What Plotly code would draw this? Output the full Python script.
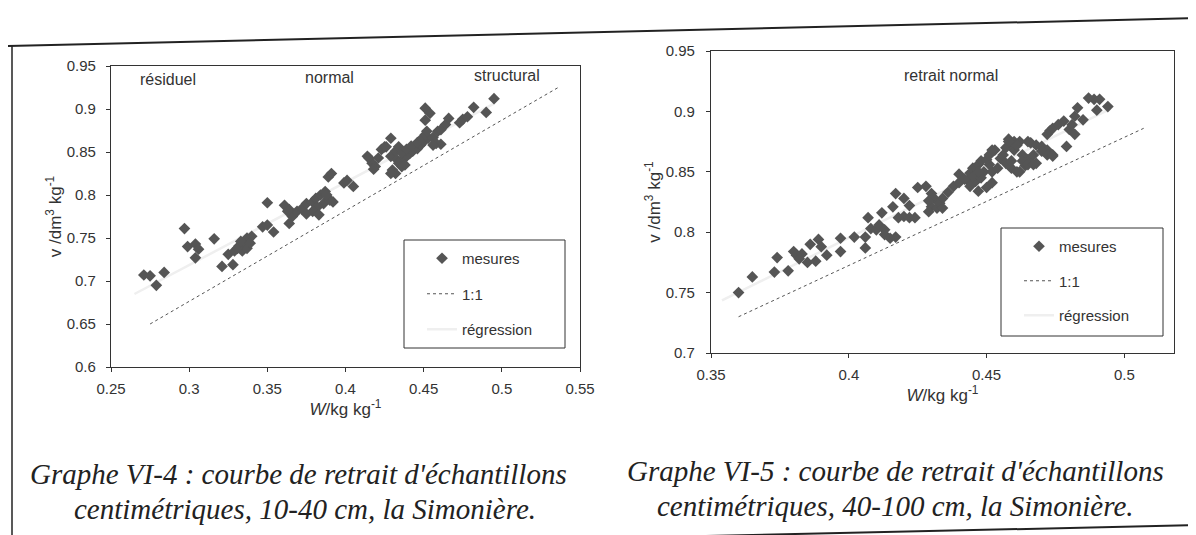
import numpy as np
import plotly.graph_objects as go

# ---------------- data ----------------
# Graphe VI-4 : 10-40 cm
left_w = [0.271, 0.275, 0.279, 0.284, 0.297, 0.299, 0.304, 0.306, 0.304, 0.316,
          0.321, 0.328, 0.325, 0.329, 0.332, 0.335, 0.337, 0.340, 0.334, 0.337,
          0.331, 0.333, 0.339, 0.347, 0.350, 0.354, 0.350, 0.361, 0.364, 0.366,
          0.369, 0.372, 0.364, 0.363, 0.375, 0.379, 0.381, 0.384, 0.387, 0.389,
          0.386, 0.382, 0.379, 0.375, 0.383, 0.392, 0.390, 0.388, 0.389, 0.391,
          0.399, 0.401, 0.405, 0.414, 0.417, 0.419, 0.418, 0.415, 0.421, 0.423,
          0.425, 0.429, 0.426, 0.429, 0.432, 0.434, 0.430, 0.432, 0.429, 0.433,
          0.435, 0.437, 0.439, 0.441, 0.443, 0.446, 0.448, 0.450, 0.453, 0.436,
          0.439, 0.442, 0.446, 0.449, 0.451, 0.434, 0.436, 0.438, 0.451, 0.454,
          0.451, 0.452, 0.456, 0.461, 0.458, 0.456, 0.459, 0.461, 0.464, 0.466,
          0.473, 0.475, 0.478, 0.482, 0.490, 0.495]
left_v = [0.707, 0.706, 0.695, 0.710, 0.761, 0.740, 0.743, 0.737, 0.727, 0.749,
          0.717, 0.719, 0.731, 0.735, 0.741, 0.744, 0.750, 0.752, 0.735, 0.738,
          0.738, 0.746, 0.744, 0.763, 0.765, 0.757, 0.791, 0.788, 0.783, 0.775,
          0.781, 0.784, 0.767, 0.781, 0.790, 0.792, 0.796, 0.800, 0.804, 0.796,
          0.790, 0.786, 0.781, 0.778, 0.777, 0.792, 0.794, 0.800, 0.821, 0.825,
          0.814, 0.817, 0.810, 0.845, 0.837, 0.833, 0.830, 0.843, 0.843, 0.853,
          0.856, 0.866, 0.856, 0.845, 0.851, 0.856, 0.829, 0.825, 0.825, 0.841,
          0.839, 0.842, 0.845, 0.848, 0.851, 0.854, 0.858, 0.862, 0.866, 0.849,
          0.853, 0.857, 0.861, 0.866, 0.870, 0.837, 0.833, 0.835, 0.901, 0.895,
          0.887, 0.874, 0.867, 0.859, 0.860, 0.858, 0.874, 0.876, 0.882, 0.889,
          0.884, 0.888, 0.891, 0.902, 0.896, 0.912]
left_sat_w = [0.275, 0.537]
left_sat_v = [0.650, 0.926]

# Graphe VI-5 : 40-100 cm
right_w = [0.360, 0.365, 0.373, 0.374, 0.378, 0.380, 0.381, 0.383, 0.382, 0.385,
           0.386, 0.388, 0.389, 0.390, 0.392, 0.397, 0.397, 0.402, 0.406, 0.406,
           0.407, 0.408, 0.410, 0.411, 0.413, 0.412, 0.413, 0.415, 0.417, 0.416,
           0.417, 0.420, 0.422, 0.418, 0.420, 0.422, 0.424, 0.425, 0.428, 0.430,
           0.431, 0.430, 0.432, 0.433, 0.434, 0.436, 0.438, 0.429, 0.429, 0.434,
           0.440, 0.440, 0.443, 0.442, 0.444, 0.445, 0.447, 0.448, 0.444, 0.446,
           0.447, 0.450, 0.452, 0.449, 0.451, 0.445, 0.448, 0.452, 0.454, 0.447,
           0.450, 0.451, 0.453, 0.455, 0.457, 0.459, 0.462, 0.464, 0.468, 0.465,
           0.463, 0.460, 0.459, 0.458, 0.460, 0.462, 0.465, 0.466, 0.468, 0.470,
           0.472, 0.474, 0.452, 0.456, 0.457, 0.458, 0.461, 0.467, 0.470, 0.472,
           0.474, 0.461, 0.459, 0.463, 0.465, 0.467, 0.472, 0.473, 0.474, 0.476,
           0.478, 0.480, 0.481, 0.482, 0.479, 0.482, 0.483, 0.485, 0.489, 0.490,
           0.491, 0.494, 0.487]
right_v = [0.750, 0.763, 0.767, 0.779, 0.768, 0.784, 0.781, 0.782, 0.778, 0.775,
           0.790, 0.776, 0.794, 0.788, 0.781, 0.795, 0.784, 0.796, 0.787, 0.796,
           0.812, 0.803, 0.802, 0.806, 0.802, 0.816, 0.798, 0.795, 0.796, 0.821,
           0.832, 0.828, 0.822, 0.812, 0.813, 0.812, 0.812, 0.837, 0.838, 0.832,
           0.828, 0.821, 0.820, 0.824, 0.828, 0.833, 0.838, 0.817, 0.826, 0.820,
           0.848, 0.841, 0.843, 0.844, 0.849, 0.853, 0.856, 0.859, 0.838, 0.842,
           0.834, 0.837, 0.841, 0.850, 0.856, 0.846, 0.845, 0.850, 0.853, 0.850,
           0.860, 0.864, 0.868, 0.861, 0.857, 0.853, 0.850, 0.855, 0.857, 0.860,
           0.864, 0.868, 0.871, 0.877, 0.875, 0.875, 0.875, 0.874, 0.872, 0.871,
           0.868, 0.864, 0.868, 0.864, 0.870, 0.875, 0.872, 0.864, 0.867, 0.864,
           0.863, 0.850, 0.859, 0.859, 0.856, 0.856, 0.881, 0.884, 0.886, 0.889,
           0.892, 0.885, 0.889, 0.881, 0.871, 0.896, 0.903, 0.893, 0.910, 0.901,
           0.910, 0.904, 0.911]
right_sat_w = [0.360, 0.507]
right_sat_v = [0.730, 0.886]

# axis ticks
left_xticks = [0.25, 0.30, 0.35, 0.40, 0.45, 0.50, 0.55]
left_xtext = ["0.25", "0.3", "0.35", "0.4", "0.45", "0.5", "0.55"]
left_yticks = [0.60, 0.65, 0.70, 0.75, 0.80, 0.85, 0.90, 0.95]
left_ytext = ["0.6", "0.65", "0.7", "0.75", "0.8", "0.85", "0.9", "0.95"]
right_xticks = [0.35, 0.40, 0.45, 0.50]
right_xtext = ["0.35", "0.4", "0.45", "0.5"]
right_yticks = [0.70, 0.75, 0.80, 0.85, 0.90, 0.95]
right_ytext = ["0.7", "0.75", "0.8", "0.85", "0.9", "0.95"]

# ---------------- figure ----------------
W, H = 1196, 535
SANS = "Liberation Sans, Arial, sans-serif"
SERIF = "Liberation Serif, Times New Roman, serif"
MARK = "#555555"
TXT = "#333333"


def px_x(p):
    return p / W


def px_y(p):
    return 1 - p / H


fig = go.Figure()


def add_panel(w, v, sw, sv, xa, ya, leg):
    w = np.asarray(w)
    v = np.asarray(v)
    b, a = np.polyfit(w, v, 1)
    rx = np.array([w.min() - 0.006, w.max()])
    fig.add_trace(go.Scatter(x=rx, y=a + b * rx, mode="lines", name="régression",
                             line=dict(color="#efefef", width=2.5),
                             xaxis=xa, yaxis=ya, legend=leg, legendrank=3,
                             legendgroup=leg + "r"))
    fig.add_trace(go.Scatter(x=sw, y=sv, mode="lines", name="1:1",
                             line=dict(color="#555555", width=1, dash="dot"),
                             xaxis=xa, yaxis=ya, legend=leg, legendrank=2,
                             legendgroup=leg + "s"))
    fig.add_trace(go.Scatter(x=w, y=v, mode="markers", name="mesures",
                             marker=dict(symbol="diamond", size=9, color=MARK,
                                         line=dict(width=0)),
                             xaxis=xa, yaxis=ya, legend=leg, legendrank=1,
                             legendgroup=leg + "m"))


add_panel(left_w, left_v, left_sat_w, left_sat_v, "x", "y", "legend")
add_panel(right_w, right_v, right_sat_w, right_sat_v, "x2", "y2", "legend2")

axis_common = dict(showgrid=False, zeroline=False, showline=True, mirror=True,
                   linecolor="#333333", linewidth=1.2, ticks="outside", ticklen=4,
                   tickcolor="#333333", automargin=False,
                   tickfont=dict(family=SANS, size=15, color=TXT))

title_font = dict(family=SANS, size=17, color=TXT)

fig.update_layout(
    width=W, height=H, template="none",
    paper_bgcolor="white", plot_bgcolor="white",
    margin=dict(l=0, r=0, t=0, b=0),
    showlegend=True,
    xaxis=dict(axis_common, domain=[px_x(103), px_x(572)], range=[0.25, 0.55],
               tickvals=left_xticks, ticktext=left_xtext, ticklabelstandoff=4,
               title=dict(text="<i>W</i>/kg kg<sup>-1</sup>", font=title_font, standoff=2),
               anchor="y"),
    yaxis=dict(axis_common, domain=[px_y(359), px_y(58)], range=[0.6, 0.95],
               tickvals=left_yticks, ticktext=left_ytext, ticklabelstandoff=7,
               title=dict(text="v /dm<sup>3</sup> kg<sup>-1</sup>", font=title_font, standoff=0),
               anchor="x"),
    xaxis2=dict(axis_common, domain=[px_x(703), px_x(1166)], range=[0.35, 0.518],
                tickvals=right_xticks, ticktext=right_xtext, ticklabelstandoff=4,
                title=dict(text="<i>W</i>/kg kg<sup>-1</sup>", font=title_font, standoff=0),
                anchor="y2"),
    yaxis2=dict(axis_common, domain=[px_y(345), px_y(43)], range=[0.7, 0.95],
                tickvals=right_yticks, ticktext=right_ytext, ticklabelstandoff=8,
                title=dict(text="v /dm<sup>3</sup> kg<sup>-1</sup>", font=title_font, standoff=0),
                anchor="x2"),
    legend=dict(x=px_x(414), y=px_y(234), xanchor="left", yanchor="top",
                bgcolor="rgba(0,0,0,0)", borderwidth=0, tracegroupgap=13,
                font=dict(family=SANS, size=15, color=TXT)),
    legend2=dict(x=px_x(1011), y=px_y(222), xanchor="left", yanchor="top",
                 bgcolor="rgba(0,0,0,0)", borderwidth=0, tracegroupgap=12,
                 font=dict(family=SANS, size=15, color=TXT)),
)

# legend frames
fig.add_shape(type="rect", xref="paper", yref="paper",
              x0=px_x(396), x1=px_x(557), y0=px_y(340), y1=px_y(232),
              line=dict(color="#333333", width=1))
fig.add_shape(type="rect", xref="paper", yref="paper",
              x0=px_x(993), x1=px_x(1155), y0=px_y(328), y1=px_y(220),
              line=dict(color="#333333", width=1))

# page frame lines of the scanned document
page_line = dict(color="#222222", width=2)
fig.add_shape(type="line", xref="paper", yref="paper",
              x0=0, y0=px_y(38), x1=1, y1=px_y(10), line=page_line)
fig.add_shape(type="line", xref="paper", yref="paper",
              x0=px_x(4), y0=px_y(38), x1=px_x(4), y1=0, line=dict(color="#222222", width=1.5))
fig.add_shape(type="line", xref="paper", yref="paper",
              x0=px_x(470), y0=px_y(533), x1=1, y1=px_y(517), line=page_line)

# zone labels
ann_font = dict(family=SANS, size=16, color=TXT)
for txt, xx, yy, ref in [("résiduel", 0.2865, 0.934, ("x", "y")),
                         ("normal", 0.39, 0.937, ("x", "y")),
                         ("structural", 0.503, 0.939, ("x", "y")),
                         ("retrait normal", 0.437, 0.93, ("x2", "y2"))]:
    fig.add_annotation(text=txt, x=xx, y=yy, xref=ref[0], yref=ref[1],
                       showarrow=False, font=ann_font)

# captions
cap_font = dict(family=SERIF, size=29, color="#222222", style="italic")
captions = [
    ("Graphe VI-4 : courbe de retrait d'échantillons", 290, 466),
    ("centimétriques, 10-40 cm, la Simonière.", 297, 501),
    ("Graphe VI-5 : courbe de retrait d'échantillons", 888, 463),
    ("centimétriques, 40-100 cm, la Simonière.", 887, 498),
]
for txt, cx, cy in captions:
    fig.add_annotation(text=txt, x=px_x(cx), y=px_y(cy), xref="paper", yref="paper",
                       showarrow=False, font=cap_font, xanchor="center", yanchor="middle")

fig.write_html("out.html")
